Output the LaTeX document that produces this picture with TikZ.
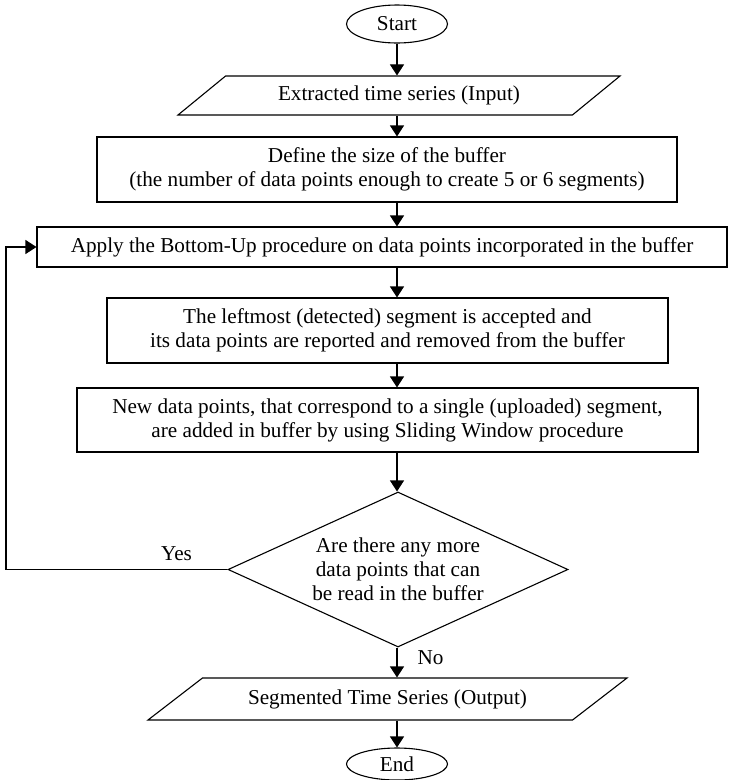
\documentclass[tikz,border=0pt]{standalone}
\usepackage{fontspec}
\setmainfont{Liberation Serif}
\usetikzlibrary{shapes.geometric}
\usetikzlibrary{arrows.meta}
\usetikzlibrary{positioning}

\begin{document}
\begin{tikzpicture}[x=1pt,y=-1pt,->,>={Triangle[width=14pt,length=11pt]},line width=1.1pt,
  every node/.style={font=\fontsize{21.2}{24}\selectfont,align=center,inner sep=0pt},
  term node/.style={ellipse,draw,minimum width=101pt,minimum height=38pt},
  io node/.style={trapezium,draw,trapezium stretches body},
  proc node/.style={rectangle,draw},
  dec node/.style={diamond,draw,aspect=2.17,minimum width=340pt,minimum height=155pt}]

  \useasboundingbox (0,0) rectangle (729,780);

  \node[term node] (1) at (397,24) {Start};
  \node[io node,trapezium left angle=22,trapezium right angle=158,
    minimum width=442pt,minimum height=39pt] (2) at (399,95.5) {Extracted time series (Input)};
  \node[proc node,minimum width=580pt,minimum height=65pt] (3) at (387,169.5)
    {Define the size of the buffer\\(the number of data points enough to create 5 or 6 segments)};
  \node[proc node,minimum width=690pt,minimum height=40pt] (4) at (382,247)
    {Apply the Bottom-Up procedure on data points incorporated in the buffer};
  \node[proc node,minimum width=561pt,minimum height=65pt] (5) at (387.5,330.5)
    {The leftmost (detected) segment is accepted and\\its data points are reported and removed from the buffer};
  \node[proc node,minimum width=621pt,minimum height=64pt] (6) at (387.5,420)
    {New data points, that correspond to a single (uploaded) segment,\\are added in buffer by using Sliding Window procedure};
  \node[dec node] (7) at (398,569.5) {Are there any more\\data points that can\\be read in the buffer};
  \node[io node,trapezium left angle=19.5,trapezium right angle=160.5,
    minimum width=479pt,minimum height=42pt] (8) at (387.5,699) {Segmented Time Series (Output)};
  \node[term node,minimum height=32pt] (9) at (397,764) {End};

  \path (1) edge (1 |- 2.north)
    (2.south -| 1) edge (3.north -| 1)
    (3.south -| 1) edge (4.north -| 1)
    (4.south -| 1) edge (5.north -| 1)
    (5.south -| 1) edge (6.north -| 1)
    (6.south -| 1) edge (7.north -| 1)
    (7.south -| 1) edge node[right=20pt,pos=0.35] (12) {No} (8.north -| 1)
    (8.south -| 1) edge (9.north -| 1);

  \coordinate (10) at (6,569.5);
  \draw (7.west) -- node[above=8pt,pos=0.23] (11) {Yes} (10) |- (4.west);

\end{tikzpicture}
\end{document}
